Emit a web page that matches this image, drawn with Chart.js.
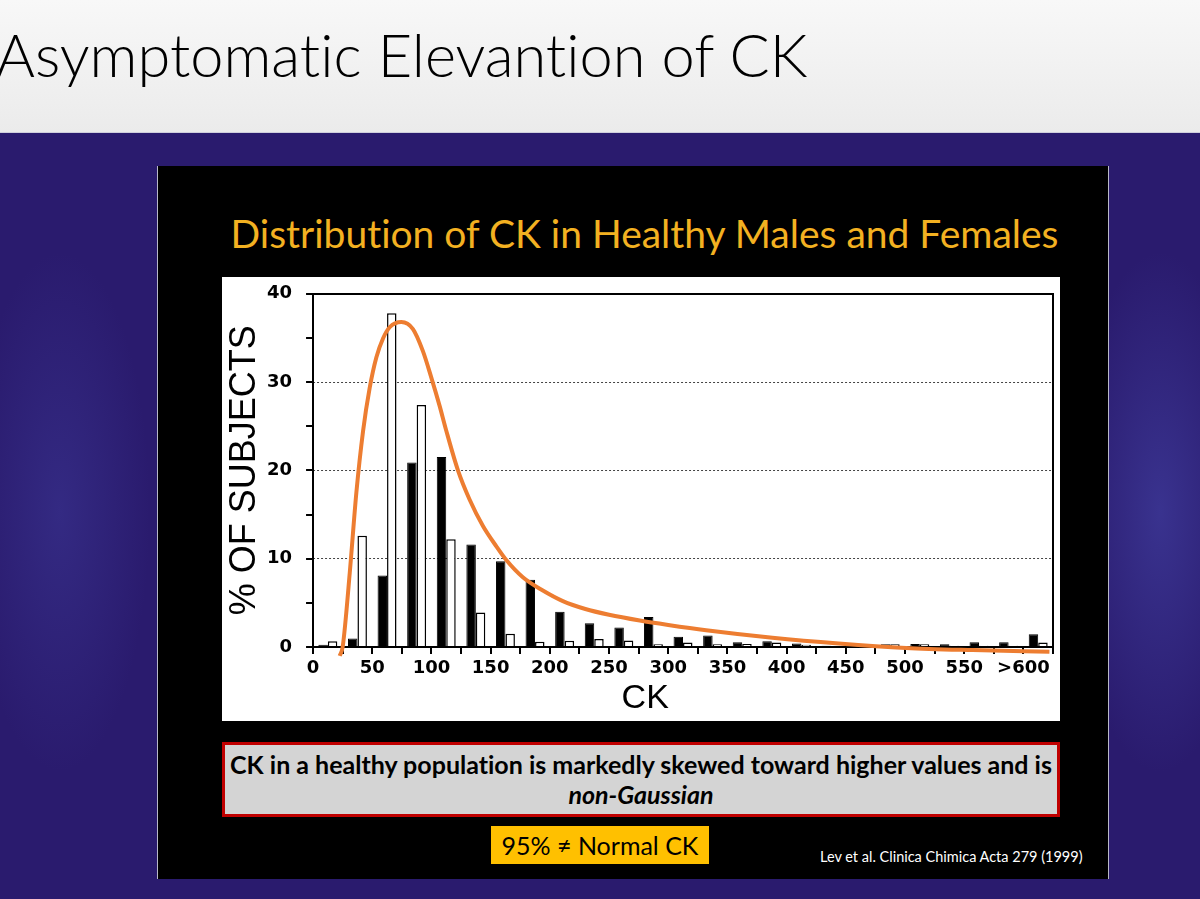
<!DOCTYPE html>
<html>
<head>
<meta charset="utf-8">
<script src="https://cdn.jsdelivr.net/npm/chart.js@4.4.1/dist/chart.umd.min.js"></script>
<style>
    body { margin: 0; width: 1200px; height: 899px; overflow: hidden; position: relative;
           background: #2a1b6e; font-family: Lato, sans-serif; }
    #glow { position: absolute; left: 0; top: 132px; width: 1200px; height: 767px;
            background: radial-gradient(ellipse 90px 260px at 1160px 380px, rgba(70,70,170,0.55), rgba(42,27,110,0) 100%),
                        radial-gradient(ellipse 90px 260px at 60px 380px, rgba(70,70,170,0.35), rgba(42,27,110,0) 100%); }
    #header { position: absolute; left: 0; top: 0; width: 1200px; height: 132px;
              background: linear-gradient(#f8f8f8, #ebebeb); border-bottom: 1px solid #cfcfdc; }
    #header h1 { position: absolute; left: -4px; top: 24px; margin: 0; white-space: nowrap;
                 font: 300 59.5px/60px Lato, sans-serif; color: #000; font-variant-ligatures: none; }
    #panel { position: absolute; left: 157px; top: 166px; width: 950px; height: 713px; background: #000;
             border-left: 1px solid #b8b8c8; border-right: 1px solid #b8b8c8; }
    #subtitle { position: absolute; left: 157px; top: 211px; width: 975px; text-align: center; white-space: nowrap;
                font: 39px/44px Lato, sans-serif; color: #f3b121; font-variant-ligatures: none; }
    #chart-box { position: absolute; left: 222px; top: 277px; width: 838px; height: 444px; background: #fff; }
    #note { position: absolute; left: 222px; top: 742px; width: 832px; height: 65px; padding-top: 4px;
            background: #d4d4d4; border: 3px solid #c00000; text-align: center; white-space: nowrap;
            font: bold 25px/30px Lato, sans-serif; color: #000; font-variant-ligatures: none; }
    #note i { font-style: italic; }
    #normal { position: absolute; left: 491px; top: 826px; width: 218px; height: 38px; background: #ffc000;
              text-align: center; font: 25px/38px Lato, sans-serif; color: #000; }
    #cite { position: absolute; left: 820px; top: 849px; white-space: nowrap;
            font: 14.5px/16px Lato, sans-serif; color: #fff; }
</style>
</head>
<body>
<div id="glow"></div>
<div id="header"><h1>Asymptomatic Elevantion of CK</h1></div>
<div id="panel"></div>
<div id="subtitle">Distribution of CK in Healthy Males and Females</div>
<div id="chart-box"><canvas id="chart"></canvas></div>
<div id="note">CK in a healthy population is markedly skewed toward higher values and is<br><i>non-Gaussian</i></div>
<div id="normal">95% &ne; Normal CK</div>
<div id="cite">Lev et al. Clinica Chimica Acta 279 (1999)</div>

<script>
// CK bins, 25 U/L wide; the last one is ">600"
var bin_start = [0, 25, 50, 75, 100, 125, 150, 175, 200, 225, 250, 275, 300,
                 325, 350, 375, 400, 425, 450, 475, 500, 525, 550, 575, 600];
var bin_width = 25;

// % of subjects
var males   = [0.25, 0.95, 8.1, 20.9, 21.5, 11.6, 9.7, 7.6, 4.0, 2.7, 2.2, 3.4, 1.15,
               1.3, 0.55, 0.65, 0.4, 0.15, 0.3, 0.3, 0.35, 0.3, 0.55, 0.55, 1.45];
var females = [0.65, 12.6, 37.8, 27.4, 12.2, 3.9, 1.5, 0.6, 0.7, 0.9, 0.75, 0.3, 0.5,
               0.3, 0.35, 0.5, 0.25, 0.1, 0.15, 0.3, 0.3, 0.15, 0.15, 0.15, 0.5];

// hand drawn orange curve
var curve_ck  = [22.5, 25, 31, 36.6, 42.2, 47.8, 53.5, 59, 64.7, 74.6, 84.4, 92.8, 99.9, 106.9,
                 112.3, 122.4, 132.2, 143.5, 154.8, 163.2, 177.2, 194.1, 211, 230, 250, 276, 300,
                 332, 388, 444, 501, 557, 622];
var curve_pct = [-1.0, 0, 8.4, 17.5, 24.4, 29.3, 32.8, 34.9, 36.2, 36.8, 36, 33.5, 30.5, 27.3,
                 24.6, 20.0, 16.7, 13.7, 11.4, 9.85, 7.9, 6.4, 5.2, 4.3, 3.65, 3.0, 2.5,
                 1.9, 1.05, 0.4, -0.1, -0.35, -0.55];

var x_tick_values = [0, 50, 100, 150, 200, 250, 300, 350, 400, 450, 500, 550, 600];
var x_tick_labels = ['0', '50', '100', '150', '200', '250', '300', '350', '400', '450', '500', '550', '>600'];
var y_tick_values = [0, 10, 20, 30, 40];

var axis_color = '#000000';
var grid_color = '#444444';
var curve_color = '#ed7d31';
var x_tick_font = {family: 'DejaVu Sans, sans-serif', size: 18, weight: 'bold', lineHeight: 1.0};
var y_tick_font = {family: 'DejaVu Sans, sans-serif', size: 18, weight: 'bold', lineHeight: 0.3};
var title_family = 'Liberation Sans, Arial, sans-serif';

function binPoints(values) {
    return values.map(function (v, i) {
        return {x: bin_start[i] + bin_width / 2, y: v};
    });
}

var cfg = {
    type: 'bar',
    data: {
        datasets: [{
            type: 'line',
            label: 'fit',
            data: curve_ck.map(function (x, i) { return {x: x, y: curve_pct[i]}; }),
            borderColor: curve_color,
            borderWidth: 4,
            pointRadius: 0,
            cubicInterpolationMode: 'monotone',
            fill: false,
            clip: false,
            order: 0
        }, {
            label: 'Males',
            data: binPoints(males),
            backgroundColor: '#000000',
            borderColor: '#000000',
            borderWidth: 1,
            order: 1
        }, {
            label: 'Females',
            data: binPoints(females),
            backgroundColor: '#ffffff',
            borderColor: '#000000',
            borderWidth: 1.5,
            order: 2
        }]
    },
    options: {
        responsive: true,
        maintainAspectRatio: false,
        animation: false,
        categoryPercentage: 0.64,
        barPercentage: 1.0,
        layout: {padding: {left: 0, right: 7, top: 5, bottom: 0}},
        scales: {
            x: {
                type: 'linear',
                position: 'bottom',
                min: 0,
                max: 625,
                offset: false,
                ticks: {
                    stepSize: 25,
                    autoSkip: false,
                    maxRotation: 0,
                    padding: 5,
                    color: axis_color,
                    font: x_tick_font,
                    callback: function (value) {
                        var i = x_tick_values.indexOf(value);
                        return i >= 0 ? x_tick_labels[i] : '';
                    }
                },
                grid: {display: true, drawOnChartArea: false, offset: false, tickLength: 7, color: axis_color, lineWidth: 2},
                border: {display: true, color: axis_color, width: 2},
                title: {
                    display: true,
                    text: 'CK        ',
                    color: axis_color,
                    font: {family: title_family, size: 34, lineHeight: 1.0},
                    padding: {top: 0, bottom: 5}
                }
            },
            xTop: {
                type: 'linear',
                position: 'top',
                min: 0,
                max: 625,
                offset: false,
                ticks: {display: false},
                grid: {display: false, drawTicks: false},
                border: {display: true, color: axis_color, width: 2}
            },
            y: {
                type: 'linear',
                position: 'left',
                min: 0,
                max: 40,
                ticks: {
                    stepSize: 5,
                    autoSkip: false,
                    padding: 14,
                    color: axis_color,
                    font: y_tick_font,
                    callback: function (value) {
                        return y_tick_values.indexOf(value) >= 0 ? value : '';
                    }
                },
                grid: {display: true, drawOnChartArea: false, tickLength: 7, color: axis_color, lineWidth: 2},
                border: {display: true, color: axis_color, width: 2},
                title: {
                    display: true,
                    text: '% OF SUBJECTS',
                    color: axis_color,
                    font: {family: title_family, size: 36, lineHeight: 1.0},
                    padding: {top: 5, bottom: -10}
                }
            },
            yGrid: {
                type: 'linear',
                position: 'right',
                min: 0,
                max: 40,
                ticks: {display: false, stepSize: 10},
                grid: {
                    drawTicks: false,
                    lineWidth: 1,
                    color: function (c) {
                        var v = c.tick ? c.tick.value : 0;
                        return (v > 0 && v < 40) ? grid_color : 'rgba(0,0,0,0)';
                    }
                },
                border: {display: true, color: axis_color, width: 2, dash: [2, 2]}
            }
        },
        plugins: {
            legend: {display: false},
            tooltip: {enabled: false},
            title: {display: false}
        }
    }
};

var ctx = document.getElementById('chart');
const chart = new Chart(ctx, cfg);
</script>
</body>
</html>
